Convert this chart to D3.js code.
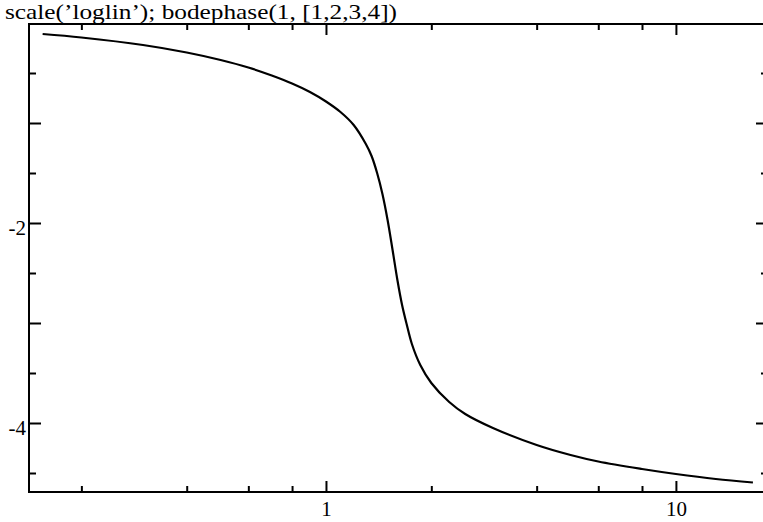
<!DOCTYPE html>
<html>
<head>
<meta charset="utf-8">
<script src="https://cdn.jsdelivr.net/npm/d3@7/dist/d3.min.js"></script>
<style>
  html, body { margin: 0; padding: 0; background: #fff; }
  svg { display: block; }
  text { font-family: "Liberation Serif", "Times New Roman", serif; fill: #000; }
</style>
</head>
<body>
<svg id="chart" width="763" height="522"></svg>
<script>
// Data (frequency, phase in radians)
const freqs  = [0.155, 0.2, 0.3, 0.4, 0.5, 0.6, 0.7, 0.8, 0.9, 1.0, 1.1, 1.2, 1.3, 1.35, 1.4, 1.45, 1.5, 1.55, 1.6, 1.65, 1.7, 1.76, 1.86, 2.0, 2.25, 2.5, 3.0, 4.0, 5.0, 6.0, 8.0, 10.0, 13.0, 16.6];
const phases = [-0.11, -0.145, -0.22, -0.295, -0.37, -0.445, -0.525, -0.605, -0.69, -0.785, -0.89, -1.02, -1.21, -1.33, -1.50, -1.71, -1.97, -2.27, -2.57, -2.82, -3.01, -3.21, -3.42, -3.60, -3.79, -3.91, -4.05, -4.22, -4.32, -4.385, -4.46, -4.51, -4.56, -4.595];

const xMajorTicks = [1, 10];
const xMajorLabels = ["1", "10"];
const xMinorTicks = [0.2, 0.4, 0.6, 0.8, 2, 4, 6, 8];
const yMajorTicks = [-1, -2, -3, -4];
const yLabelTicks = [-2, -4];
const yLabels = ["-2", "-4"];
const yMinorTicks = [-0.5, -1.5, -2.5, -3.5, -4.5];
const titleText = "scale(\u2019loglin\u2019); bodephase(1, [1,2,3,4])";

const svg = d3.select("#chart");
const L = 29, R = 768, T = 24, B = 492;

const x = d3.scaleLog().domain([0.1417, 18.33]).range([L, R]);
const y = d3.scaleLinear().domain([-0.01, -4.69]).range([T, B]);

const axisStyle = g => {
  g.selectAll(".domain").remove();
  g.selectAll(".tick line").attr("stroke", "#000").attr("stroke-width", 2);
  g.selectAll("text").attr("font-size", 21).attr("font-family", "Liberation Serif, serif").attr("fill", "#000");
};

// bottom axis
svg.append("g").attr("transform", `translate(0,${B})`)
  .call(d3.axisBottom(x).tickValues(xMajorTicks).tickFormat((d, i) => xMajorLabels[i]).tickSize(-11).tickPadding(9))
  .call(axisStyle);
svg.append("g").attr("transform", `translate(0,${B})`)
  .call(d3.axisBottom(x).tickValues(xMinorTicks).tickFormat("").tickSize(-6))
  .call(axisStyle);
// top axis
svg.append("g").attr("transform", `translate(0,${T})`)
  .call(d3.axisTop(x).tickValues(xMajorTicks).tickFormat("").tickSize(-11))
  .call(axisStyle);
svg.append("g").attr("transform", `translate(0,${T})`)
  .call(d3.axisTop(x).tickValues(xMinorTicks).tickFormat("").tickSize(-6))
  .call(axisStyle);
// left axis
svg.append("g").attr("transform", `translate(${L},0)`)
  .call(d3.axisLeft(y).tickValues(yMajorTicks).tickFormat("").tickSize(-12))
  .call(axisStyle);
svg.append("g").attr("transform", `translate(${L},0)`)
  .call(d3.axisLeft(y).tickValues(yMinorTicks).tickFormat("").tickSize(-7))
  .call(axisStyle);
const yl = svg.append("g").attr("transform", `translate(${L},0)`)
  .call(d3.axisLeft(y).tickValues(yLabelTicks).tickFormat((d, i) => yLabels[i]).tickSize(0).tickPadding(3))
  .call(axisStyle);
yl.selectAll("text").attr("dy", "0.55em");
// right axis
svg.append("g").attr("transform", `translate(${R},0)`)
  .call(d3.axisRight(y).tickValues(yMajorTicks).tickFormat("").tickSize(-12))
  .call(axisStyle);
svg.append("g").attr("transform", `translate(${R},0)`)
  .call(d3.axisRight(y).tickValues(yMinorTicks).tickFormat("").tickSize(-7))
  .call(axisStyle);

// frame
svg.append("rect").attr("x", L).attr("y", T).attr("width", R - L).attr("height", B - T)
  .attr("fill", "none").attr("stroke", "#000").attr("stroke-width", 2);

// curve
const pts = freqs.map((f, i) => [f, phases[i]]);
const line = d3.line().x(d => x(d[0])).y(d => y(d[1])).curve(d3.curveCatmullRom.alpha(0.5));
svg.append("path").datum(pts).attr("d", line)
  .attr("fill", "none").attr("stroke", "#000").attr("stroke-width", 2.2);

// title
svg.append("text").attr("x", 5).attr("y", 19).attr("font-size", 22)
  .attr("textLength", 392).attr("lengthAdjust", "spacingAndGlyphs").text(titleText);
</script>
</body>
</html>
